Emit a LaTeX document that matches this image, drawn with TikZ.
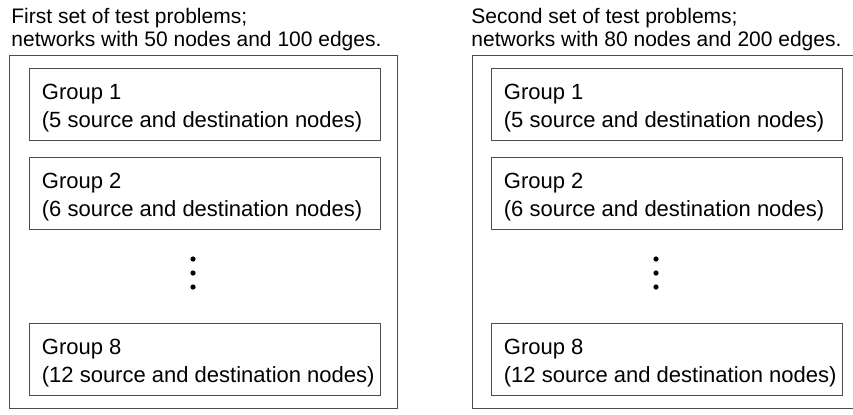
\documentclass[tikz,border=0pt]{standalone}
\usepackage{fontspec}
\setmainfont{Liberation Sans}
\usetikzlibrary{positioning}

\begin{document}
\begin{tikzpicture}
    [x=0.5pt,y=-0.5pt,
     frame/.style={draw=black!70,line width=0.5pt},
     grpbox/.style={frame,minimum width=175.5pt,minimum height=36pt,inner sep=0pt},
     grptext/.style={align=left,inner sep=0pt,yshift=-2pt,font=\fontsize{11}{14}\selectfont},
     heading/.style={align=left,inner sep=0pt,anchor=north west,font=\fontsize{10.5}{11.5}\selectfont}]

    \clip (0,0) rectangle (853,414);

    % first set
    \node[heading] (headA) at (11,8) {First set of test problems;\\networks with 50 nodes and 100 edges.};
    \draw[frame] (9,55) rectangle (397,408);

    \node[grpbox] (a1) at (204.5,104) {};
    \node[grptext,right=6.5pt of a1.west] (a1txt) {Group 1\\(5 source and destination nodes)};
    \node[grpbox] (a2) at (204.5,193) {};
    \node[grptext,right=6.5pt of a2.west] (a2txt) {Group 2\\(6 source and destination nodes)};
    \node[grpbox] (a8) at (204.5,359) {};
    \node[grptext,right=6.5pt of a8.west] (a8txt) {Group 8\\(12 source and destination nodes)};

    \fill (193,259) circle (1.3pt);
    \fill (193,273) circle (1.3pt);
    \fill (193,287) circle (1.3pt);

    % second set
    \node[heading] (headB) at (471,8) {Second set of test problems;\\networks with 80 nodes and 200 edges.};
    \draw[frame] (472,55) rectangle (859,408);

    \node[grpbox] (b1) at (666.5,104) {};
    \node[grptext,right=6.5pt of b1.west] (b1txt) {Group 1\\(5 source and destination nodes)};
    \node[grpbox] (b2) at (666.5,193) {};
    \node[grptext,right=6.5pt of b2.west] (b2txt) {Group 2\\(6 source and destination nodes)};
    \node[grpbox] (b8) at (666.5,359) {};
    \node[grptext,right=6.5pt of b8.west] (b8txt) {Group 8\\(12 source and destination nodes)};

    \fill (656,259) circle (1.3pt);
    \fill (656,273) circle (1.3pt);
    \fill (656,287) circle (1.3pt);

\end{tikzpicture}
\end{document}
